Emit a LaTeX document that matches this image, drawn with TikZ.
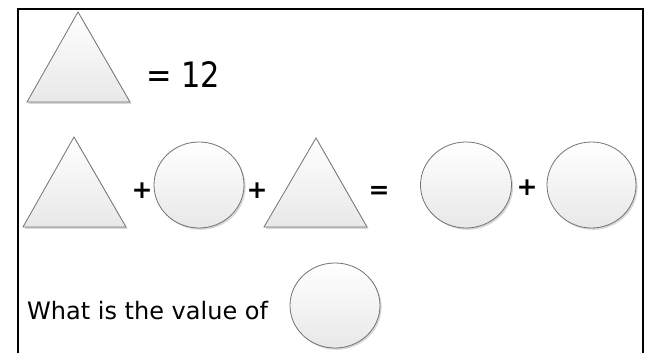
\documentclass[tikz,border=0pt]{standalone}
\usepackage{fontspec}
\setmainfont{DejaVu Sans}
\usetikzlibrary{shadows,shapes.geometric}
\begin{document}
\begin{tikzpicture}[x=1pt,y=-1pt,
  shp/.style={draw=black!55, line width=0.8pt, top color=white, bottom color=black!9,
    drop shadow={shadow xshift=1.6pt, shadow yshift=-1.8pt, fill=black!35, opacity=0.45}},
  oval/.style={shp, ellipse, inner sep=0pt},
  op/.style={font=\fontsize{25}{25}\selectfont\bfseries, inner sep=0pt},
]
\useasboundingbox (0,0) rectangle (654,353);
\begin{scope}
\clip (0,0) rectangle (654,353);
\draw[line width=2pt] (18,380) -- (18,9) -- (643,9) -- (643,380);
\end{scope}
% row 1
\path[shp] (78,12) -- (130,102) -- (27,102) -- cycle;
\node[anchor=base west, inner sep=0pt, font=\fontsize{35}{35}\selectfont] (eq1) at (146,88) {\scalebox{0.87}[1]{= 12}};
% row 2
\path[shp] (74,137) -- (126,227) -- (23,227) -- cycle;
\node[op] (p1) at (142,191) {+};
\node[oval, minimum width=90pt, minimum height=86pt] (c1) at (199,185) {};
\node[op] (p2) at (257,191) {+};
\path[shp] (316,138) -- (367,227) -- (264,227) -- cycle;
\node[op] (e2) at (379,192) {=};
\node[oval, minimum width=91pt, minimum height=86pt] (c2) at (466,185) {};
\node[op] (p3) at (527,188) {+};
\node[oval, minimum width=89pt, minimum height=86pt] (c3) at (591.5,185) {};
% row 3
\node[anchor=base west, inner sep=0pt, font=\fontsize{24}{24}\selectfont] (q) at (27,319) {What is the value of};
\node[oval, minimum width=90pt, minimum height=85pt] (c4) at (335,305.5) {};
\end{tikzpicture}
\end{document}
